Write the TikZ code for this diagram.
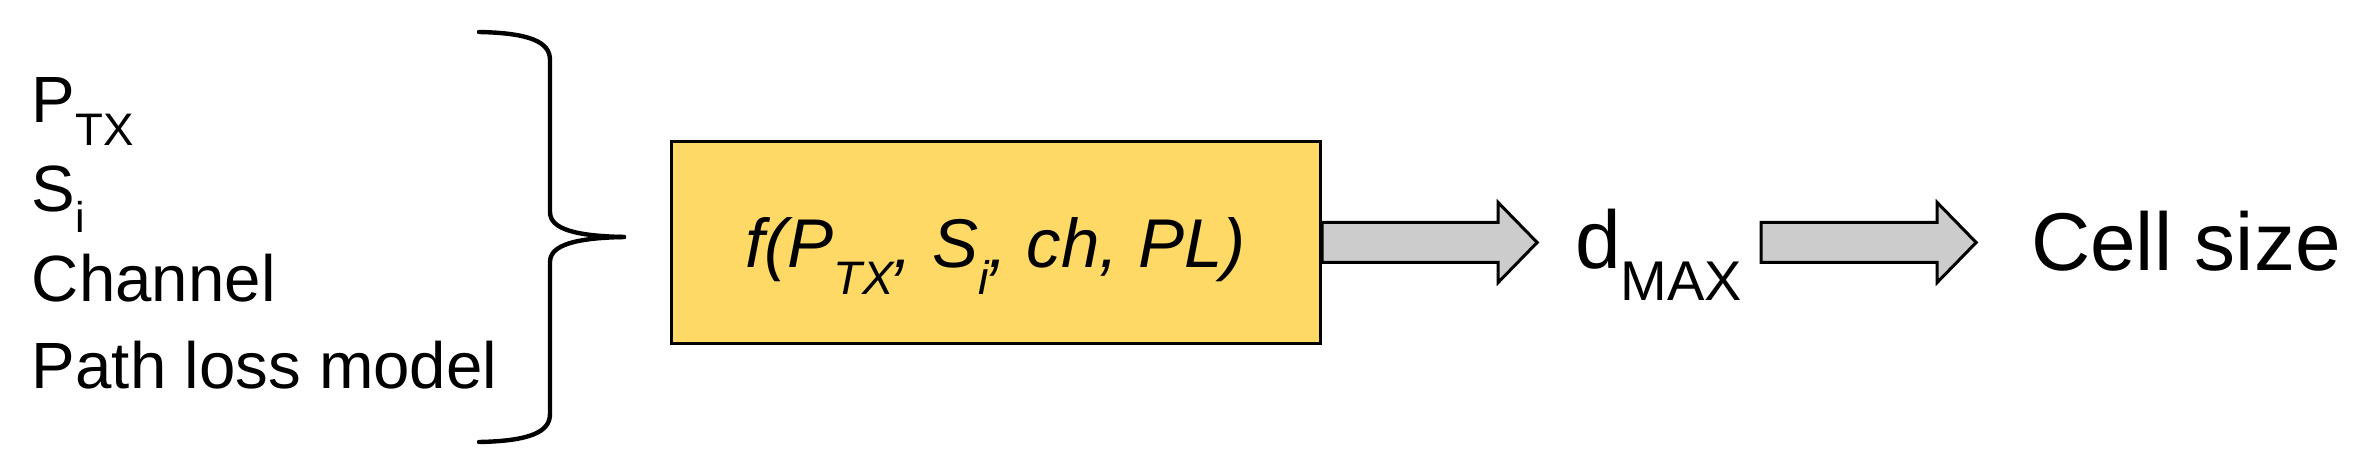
\documentclass[tikz,border=0pt]{standalone}
\usepackage{fontspec}
\setmainfont{Liberation Sans}
\usetikzlibrary{calc}
\definecolor{boxyellow}{HTML}{FFD966}
\definecolor{arrowgray}{HTML}{CCCCCC}
\newcommand{\mysub}[3]{\raisebox{-#1}{\fontsize{#2}{#2}\selectfont #3}}
\begin{document}
\begin{tikzpicture}[x=0.5pt,y=-0.5pt,
  lbl/.style={inner sep=0pt, outer sep=0pt, anchor=base west, font=\fontsize{32.7pt}{39pt}\selectfont},
  biglbl/.style={lbl, font=\fontsize{41pt}{49pt}\selectfont},
  fbox/.style={draw=black, fill=boxyellow, line width=1.65pt, minimum width=324.5pt, minimum height=101pt, inner sep=0pt},
  fatarrow/.style={draw=black, fill=arrowgray, line width=1.5pt, line join=miter},
  bracestyle/.style={draw=black, line width=2.2pt, line cap=round}]
\useasboundingbox (0,0) rectangle (2364,459);

% input list
\node[lbl] (ptx) at (32,123) {P\mysub{11.5pt}{22.8pt}{TX}};
\node[lbl] (si) at (32,212) {S\mysub{10.5pt}{21.5pt}{i}};
\node[lbl] (ch) at (32,302) {Channel};
\node[lbl] (pl) at (32,388) {Path loss model};

% brace
\path[bracestyle] (479,32) .. controls (530,33) and (550,42) .. (550,60)
  -- (550,212) .. controls (550,229) and (575,236) .. (624,237);
\path[bracestyle] (624,237) .. controls (575,238) and (550,245) .. (550,262)
  -- (550,414) .. controls (550,432) and (530,441) .. (479,442);

% function box
\node[fbox] (f) at (996,242.5) {};
\node[anchor=base, inner sep=0pt, font=\itshape\fontsize{34.5pt}{41pt}\selectfont] (ft) at (995.5,268)
  {f(P\mysub{13.5pt}{23.5pt}{TX}, S\mysub{13.5pt}{23.5pt}{i}, ch, PL)};

% outputs
\node[biglbl] (d) at (1575,269) {d\mysub{16pt}{28pt}{MAX}};
\node[biglbl] (cell) at (2031,271) {Cell size};

% fat arrows
\path[fatarrow] (f.east) ++(0,-20) -- ++(176,0) -- ++(0,-20) -- ++(39,40)
  -- ++(-39,40) -- ++(0,-20) -- ++(-176,0) -- cycle;
\coordinate (a2s) at ($(f.east)+(439,0)$);
\path[fatarrow] (a2s) ++(0,-20) -- ++(176,0) -- ++(0,-20) -- ++(39,40)
  -- ++(-39,40) -- ++(0,-20) -- ++(-176,0) -- cycle;
\end{tikzpicture}
\end{document}
